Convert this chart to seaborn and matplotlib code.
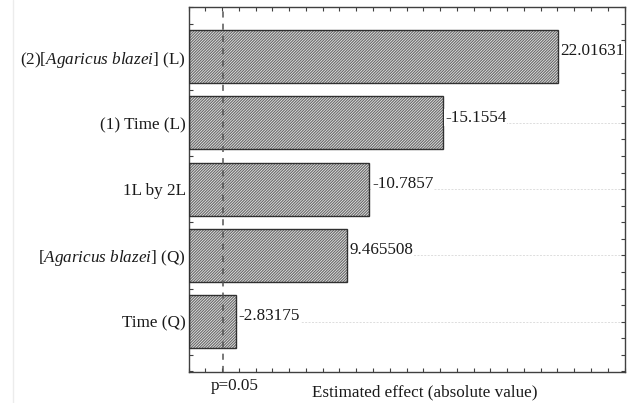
import numpy as np
import pandas as pd
import matplotlib
matplotlib.use('Agg')
import matplotlib.pyplot as plt
import seaborn as sns
from matplotlib.lines import Line2D
from matplotlib.ticker import MultipleLocator

# 数据 (Pareto chart of standardized effects)
factors = ['(2)[$\\mathit{Agaricus\\ blazei}$] (L)',
           '(1) Time (L)',
           '1L by 2L',
           '[$\\mathit{Agaricus\\ blazei}$] (Q)',
           'Time (Q)']
effects = [22.01631, -15.1554, -10.7857, 9.465508, -2.83175]
effect_labels = ['22.01631', '-15.1554', '-10.7857', '9.465508', '-2.83175']
p_limit = 2.03

sns.set_theme(style='ticks')
plt.rcParams['font.family'] = ['Liberation Serif', 'DejaVu Serif']
plt.rcParams['mathtext.fontset'] = 'custom'
plt.rcParams['mathtext.rm'] = 'Liberation Serif'
plt.rcParams['mathtext.it'] = 'Liberation Serif:italic'
plt.rcParams['hatch.linewidth'] = 0.9

df = pd.DataFrame({'factor': factors, 'effect': np.abs(effects)})

fig = plt.figure(figsize=(6.35, 4.03), dpi=100)
ax = fig.add_axes([188.5 / 635, 1 - 372 / 403, 436 / 635, 365 / 403])

# 阴影填充
sns.barplot(data=df, x='effect', y='factor', color='#f4f4f4', edgecolor='#6e6e6e',
            linewidth=0, width=0.8, ax=ax, zorder=2)
for p in ax.patches:
    p.set_hatch('////////////')
# 边框
sns.barplot(data=df, x='effect', y='factor', fill=False, edgecolor='#303030',
            linewidth=1.0, width=0.8, ax=ax, zorder=3)

ax.set_xlim(0, 26)
ax.set_ylim(4.76, -0.75)

# 虚线 p=0.05
ax.axvline(p_limit, color='#555555', lw=1.1, ls=(0, (4, 4)), zorder=4)

# 浅色网格线
ax.yaxis.grid(True, color='#dddddd', lw=0.7, ls=(0, (2, 1.5)), zorder=0)
ax.set_axisbelow(True)

for i, (v, lab) in enumerate(zip(np.abs(effects), effect_labels)):
    ax.text(v + 0.15, i - 0.02, lab, fontsize=12.3, ha='left', va='baseline',
            color='#1a1a1a', zorder=5,
            bbox=dict(facecolor='white', edgecolor='none', pad=0.5))

ax.set_xlabel('')
ax.set_ylabel('')
ax.set_xticks(np.arange(0, 27, 1))
ax.set_xticklabels([])
ax.yaxis.set_minor_locator(MultipleLocator(0.25))
ax.tick_params(axis='x', direction='in', length=3, top=True, bottom=True,
               color='#404040', width=0.8)
ax.tick_params(axis='y', which='major', direction='in', length=3, left=True,
               right=True, labelsize=12.3, pad=2, color='#404040', width=0.8,
               labelcolor='#1a1a1a')
ax.tick_params(axis='y', which='minor', direction='in', length=3, left=True,
               right=True, color='#404040', width=0.8)
for s in ax.spines.values():
    s.set_visible(True)
    s.set_color('#404040')
    s.set_linewidth(1.0)

fig.text(235 / 635, 1 - 386 / 403, 'p=0.05', fontsize=12.3, ha='center',
         va='center', color='#1a1a1a')
fig.text(425 / 635, 1 - 392 / 403, 'Estimated effect (absolute value)',
         fontsize=12.3, ha='center', va='center', color='#1a1a1a')

fig.add_artist(Line2D([13 / 635, 13 / 635], [0, 1], transform=fig.transFigure,
                      color='#ececec', lw=1))

plt.savefig('out.png', dpi=100)
